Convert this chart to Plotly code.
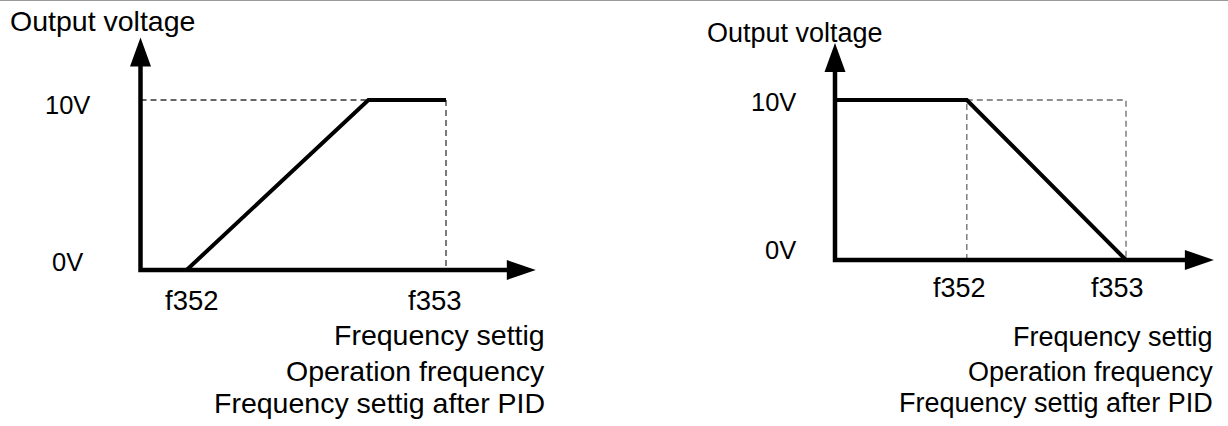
import plotly.graph_objects as go

W, H = 1228, 426

# ---------------------------------------------------------------------------
# Data: frequency in % of f353, output in volts
# ---------------------------------------------------------------------------
LEFT_FREQ = [15.1, 74.6, 100.0]        # f352, saturation point, f353
LEFT_VOLT = [0.0, 10.0, 10.0]
RIGHT_FREQ = [0.0, 45.3, 100.0]        # start, f352, f353
RIGHT_VOLT = [10.0, 10.0, 0.0]

LEFT_XTICK_VALS = [15.1, 100.0]
RIGHT_XTICK_VALS = [45.3, 100.0]
XTICK_TEXT = ["f352", "f353"]
YTICK_VALS = [0.0, 10.0]
YTICK_TEXT = ["0V", "10V"]
Y_TITLE = "Output voltage"
X_TITLE_LINES = ["Frequency settig", "Operation frequency", "Frequency settig after PID"]

FONT = "Liberation Sans, Arial, sans-serif"

# ---------------------------------------------------------------------------
# Panel geometry (pixels)
# ---------------------------------------------------------------------------
X_RANGE = [-12, 134]
Y_RANGE = [-1.5, 15]

PANELS = [
    dict(name="left", xa="x", ya="y",
         ox=140.5, oy=270.0, sx=3.055, sy=17.0,
         x_tip=129.4, y_tip=13.68,
         fs_title=28.5, fs_xtick=27.5, fs_ytick=25.5,
         freq=LEFT_FREQ, volt=LEFT_VOLT, xticks=LEFT_XTICK_VALS,
         xtick_shift=[5, -11], xtick_dy=30,
         ytick_right=[85.0, 91.7], ytick_dy=[-8, 5],
         title_x=8, title_y=21,
         foot_x=547, foot_y=[335, 371, 403],
         dash_color="#333333"),
    dict(name="right", xa="x2", ya="y2",
         ox=835.0, oy=260.0, sx=2.91, sy=16.0,
         x_tip=130.2, y_tip=13.56,
         fs_title=27, fs_xtick=27, fs_ytick=25.5,
         freq=RIGHT_FREQ, volt=RIGHT_VOLT, xticks=RIGHT_XTICK_VALS,
         xtick_shift=[-7, -9], xtick_dy=28,
         ytick_right=[798.0, 798.0], ytick_dy=[-10, 2],
         title_x=705, title_y=33,
         foot_x=1215, foot_y=[337, 372, 403],
         dash_color="#6a6a6a"),
]


def dashed_guides(freq, volt):
    """Thin guide lines from the curve's corner points down to the axes."""
    xs, ys = [], []
    if volt[0] == 0:
        # rising curve: level guide from the voltage axis to the knee,
        # drop guide at the end point
        xs += [0, freq[1], None, freq[2], freq[2], None]
        ys += [volt[1], volt[1], None, volt[2], 0, None]
    else:
        # falling curve: drop at the knee, level to f353, drop at f353
        xs += [freq[1], freq[1], None, freq[1], freq[2], freq[2], None]
        ys += [0, volt[1], None, volt[1], volt[1], 0, None]
    return xs, ys


fig = go.Figure()
shapes, annotations = [], []
layout_axes = {}

for i, p in enumerate(PANELS):
    sfx = "" if i == 0 else str(i + 1)
    # axis domains so that the data origin lands on the intended pixel
    x_left = p["ox"] + X_RANGE[0] * p["sx"]
    x_right = p["ox"] + X_RANGE[1] * p["sx"]
    y_bottom = p["oy"] - Y_RANGE[0] * p["sy"]
    y_top = p["oy"] - Y_RANGE[1] * p["sy"]
    layout_axes["xaxis" + sfx] = dict(domain=[x_left / W, x_right / W], range=X_RANGE,
                                      visible=False, fixedrange=True)
    layout_axes["yaxis" + sfx] = dict(domain=[1 - y_bottom / H, 1 - y_top / H], range=Y_RANGE,
                                      visible=False, fixedrange=True)

    gx, gy = dashed_guides(p["freq"], p["volt"])
    fig.add_trace(go.Scatter(x=gx, y=gy, mode="lines", xaxis=p["xa"], yaxis=p["ya"],
                             line=dict(color=p["dash_color"], width=1.3, dash="6px,4px"),
                             hoverinfo="skip", showlegend=False))
    fig.add_trace(go.Scatter(x=p["freq"], y=p["volt"], mode="lines", xaxis=p["xa"], yaxis=p["ya"],
                             line=dict(color="black", width=4),
                             hoverinfo="skip", showlegend=False))

    # axes with arrow heads
    head_len = 29
    x_end = p["x_tip"] - (head_len - 3) / p["sx"]
    y_end = p["y_tip"] - (head_len - 3) / p["sy"]
    shapes.append(dict(type="path", xref=p["xa"], yref=p["ya"],
                       path=f"M 0,{y_end} L 0,0 L {x_end},0",
                       line=dict(color="black", width=4.5), layer="above"))
    shapes.append(dict(type="path", xref=p["xa"], yref=p["ya"],
                       xsizemode="pixel", ysizemode="pixel",
                       xanchor=p["x_tip"], yanchor=0,
                       path=f"M 0,0 L -{head_len},10 L -{head_len},-10 Z",
                       fillcolor="black", line=dict(width=0), layer="above"))
    shapes.append(dict(type="path", xref=p["xa"], yref=p["ya"],
                       xsizemode="pixel", ysizemode="pixel",
                       xanchor=0, yanchor=p["y_tip"],
                       path=f"M 0,0 L -10.5,-{head_len} L 10.5,-{head_len} Z",
                       fillcolor="black", line=dict(width=0), layer="above"))

    def tf(size):
        return dict(family=FONT, size=size, color="black")

    for xv, txt, dx in zip(p["xticks"], XTICK_TEXT, p["xtick_shift"]):
        annotations.append(dict(x=xv, y=0, xref=p["xa"], yref=p["ya"], text=txt,
                                showarrow=False, xanchor="center", yanchor="middle",
                                xshift=dx, yshift=-p["xtick_dy"], font=tf(p["fs_xtick"])))
    for yv, txt, xr, dy in zip(YTICK_VALS, YTICK_TEXT, p["ytick_right"], p["ytick_dy"]):
        annotations.append(dict(x=0, y=yv, xref=p["xa"], yref=p["ya"], text=txt,
                                showarrow=False, xanchor="right", yanchor="middle",
                                xshift=xr - p["ox"], yshift=-dy, font=tf(p["fs_ytick"])))
    annotations.append(dict(x=p["title_x"] / W, y=1 - p["title_y"] / H, xref="paper", yref="paper",
                            text=Y_TITLE, showarrow=False, xanchor="left", yanchor="middle",
                            font=tf(p["fs_title"])))
    for line_txt, ly in zip(X_TITLE_LINES, p["foot_y"]):
        annotations.append(dict(x=p["foot_x"] / W, y=1 - ly / H, xref="paper", yref="paper",
                                text=line_txt, showarrow=False, xanchor="right", yanchor="middle",
                                font=tf(p["fs_title"])))

# thin grey rule along the top edge
shapes.append(dict(type="line", xref="paper", yref="paper", x0=0, x1=1, y0=1, y1=1,
                   line=dict(color="#9a9a9a", width=2)))

fig.update_layout(width=W, height=H, margin=dict(l=0, r=0, t=0, b=0),
                  paper_bgcolor="white", plot_bgcolor="rgba(0,0,0,0)",
                  shapes=shapes, annotations=annotations, showlegend=False,
                  **layout_axes)

fig.write_html("out.html", config={"displayModeBar": False})
